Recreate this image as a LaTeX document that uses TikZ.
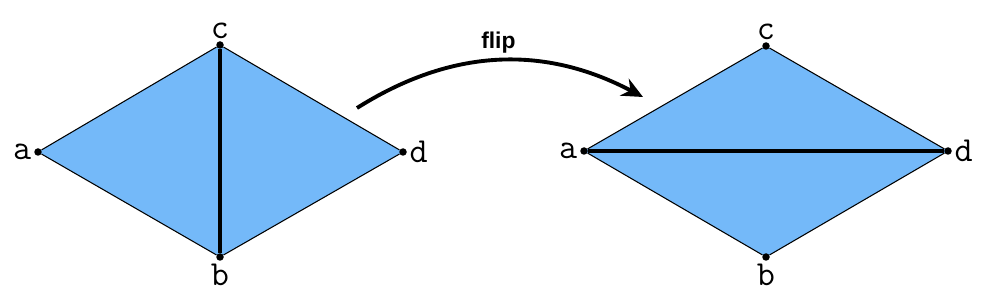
\documentclass[tikz,border=0pt]{standalone}
\usepackage{fontspec}
\setsansfont{Liberation Sans}
\usetikzlibrary{arrows.meta, positioning, backgrounds}
\definecolor{faceblue}{RGB}{116,185,249}

\begin{document}
\begin{tikzpicture}[
        % 样式
        x=0.02cm, y=-0.02cm,
        >={Stealth[length=0.42cm, width=0.38cm]},
        vertex/.style={circle, fill=black, inner sep=0pt, minimum size=0.15cm},
        every label/.style={font=\ttfamily\fontsize{20}{22}\selectfont, inner sep=1pt},
        label distance=0.01cm,
        edge/.style={draw=black, line width=0.6pt},
        diag/.style={draw=black, line width=1.8pt},
        face/.style={fill=faceblue},
        arrow/.style={->, line width=2.2pt, color=black}
    ]
    \useasboundingbox (0,0) rectangle (1000,293);

    % 1. 左边: 翻转前
    \node (la) [vertex, label=left:a] at (38,152) {};
    \node (lc) [vertex, label=above:c] at (220,45) {};
    \node (ld) [vertex, label=right:d] at (403,152) {};
    \node (lb) [vertex, label=below:b] at (220,257) {};

    \draw[edge] (la) -- (lc) -- (ld) -- (lb) -- (la);
    \draw[diag] (lc) -- (lb);

    % 2. 右边: 翻转后
    \node (ra) [vertex, label=left:a] at (584,151) {};
    \node (rc) [vertex, label=above:c] at (766,46) {};
    \node (rd) [vertex, label=right:d] at (948,151) {};
    \node (rb) [vertex, label=below:b] at (766,257) {};

    \draw[edge] (ra) -- (rc) -- (rd) -- (rb) -- (ra);
    \draw[diag] (ra) -- (rd);

    % 3. 箭头
    \coordinate (flipstart) at (357,108);
    \coordinate (flipend) at (643,97);
    \draw[arrow] (flipstart) to[bend left=30]
        node (fliplabel) [above, font=\sffamily\bfseries\fontsize{13}{15}\selectfont] {flip} (flipend);

    % 4. 填色 (背景层)
    \begin{pgfonlayer}{background}
        \fill[face] (la.center) -- (lc.center) -- (ld.center) -- (lb.center) -- cycle;
        \fill[face] (ra.center) -- (rc.center) -- (rd.center) -- (rb.center) -- cycle;
    \end{pgfonlayer}

\end{tikzpicture}
\end{document}
